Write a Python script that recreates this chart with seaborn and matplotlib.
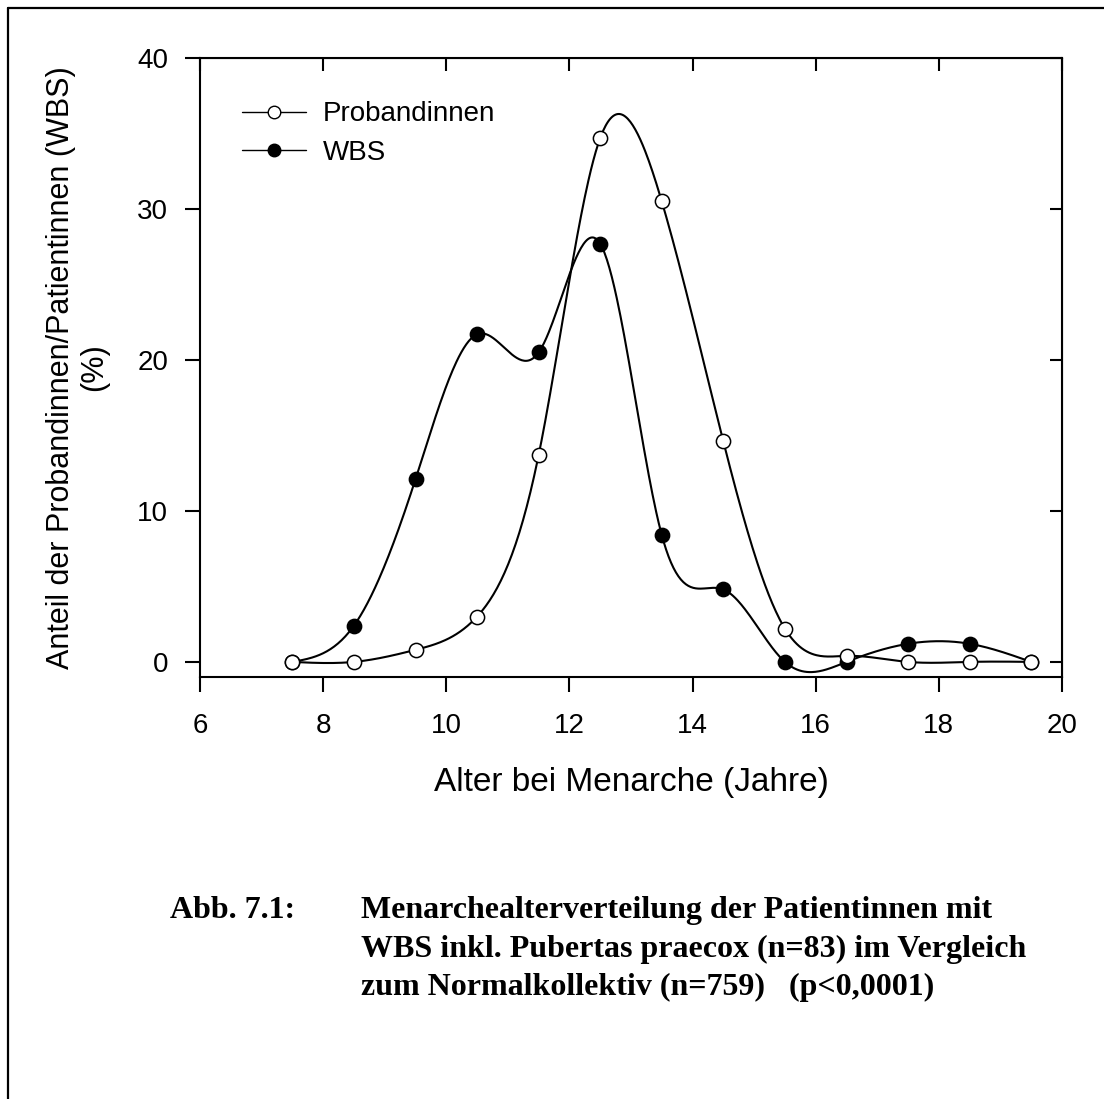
import numpy as np
import matplotlib
matplotlib.use("Agg")
import matplotlib.pyplot as plt
from matplotlib.lines import Line2D
import seaborn as sns

# Menarchealter (Klassenmitte, Jahre)
alter = [7.5, 8.5, 9.5, 10.5, 11.5, 12.5, 13.5, 14.5, 15.5, 16.5, 17.5, 18.5, 19.5]
probandinnen = [0.0, 0.0, 0.8, 3.0, 13.7, 34.7, 30.5, 14.6, 2.2, 0.4, 0.0, 0.0, 0.0]
wbs = [0.0, 2.4, 12.1, 21.7, 20.5, 27.7, 8.4, 4.8, 0.0, 0.0, 1.2, 1.2, 0.0]

x_ticks = [6, 8, 10, 12, 14, 16, 18, 20]
y_ticks = [0, 10, 20, 30, 40]

caption_label = "Abb. 7.1:"
caption_text = ("Menarchealterverteilung der Patientinnen mit\n"
                "WBS inkl. Pubertas praecox (n=83) im Vergleich\n"
                "zum Normalkollektiv (n=759)   (p<0,0001)")


def natural_spline(x, y, xs):
    # natuerlicher kubischer Spline fuer die geglaettete Kurve
    x = np.asarray(x, float)
    y = np.asarray(y, float)
    n = len(x)
    h = np.diff(x)
    A = np.zeros((n, n))
    b = np.zeros(n)
    A[0, 0] = 1
    A[-1, -1] = 1
    for i in range(1, n - 1):
        A[i, i - 1] = h[i - 1]
        A[i, i] = 2 * (h[i - 1] + h[i])
        A[i, i + 1] = h[i]
        b[i] = 3 * ((y[i + 1] - y[i]) / h[i] - (y[i] - y[i - 1]) / h[i - 1])
    c = np.linalg.solve(A, b)
    bb = (y[1:] - y[:-1]) / h - h * (2 * c[:-1] + c[1:]) / 3
    d = (c[1:] - c[:-1]) / (3 * h)
    idx = np.clip(np.searchsorted(x, xs) - 1, 0, n - 2)
    t = xs - x[idx]
    return y[idx] + bb[idx] * t + c[idx] * t ** 2 + d[idx] * t ** 3


sns.set_style("ticks")
plt.rcParams["font.family"] = ["Liberation Sans", "DejaVu Sans"]
plt.rcParams["text.color"] = "black"
plt.rcParams["axes.labelcolor"] = "black"

fig = plt.figure(figsize=(11.04, 10.99), dpi=100)
ax = fig.add_axes([200 / 1104, 1 - 677 / 1099, 862 / 1104, 619 / 1099])

xs = np.linspace(alter[0], alter[-1], 600)

# WBS zuerst, Probandinnen liegen oben
sns.lineplot(x=xs, y=natural_spline(alter, wbs, xs), color="black", lw=1.5,
             ax=ax, sort=False, estimator=None)
sns.scatterplot(x=alter, y=wbs, color="black", edgecolor="black", s=105,
                linewidth=1.1, ax=ax, zorder=3)
sns.lineplot(x=xs, y=natural_spline(alter, probandinnen, xs), color="black",
             lw=1.5, ax=ax, sort=False, estimator=None)
sns.scatterplot(x=alter, y=probandinnen, color="white", edgecolor="black",
                s=105, linewidth=1.1, ax=ax, zorder=4)

ax.set_xlim(6, 20)
ax.set_ylim(-1, 40)
ax.set_xticks(x_ticks)
ax.set_yticks(y_ticks)
for sp in ax.spines.values():
    sp.set_linewidth(1.5)
    sp.set_color("black")
ax.tick_params(axis="both", direction="out", length=11, width=1.5,
               labelsize=20, colors="black")
ax.tick_params(axis="x", pad=15)
ax.tick_params(axis="y", pad=12)

top = ax.secondary_xaxis("top")
top.set_xticks(x_ticks)
top.tick_params(direction="in", length=9, width=1.5, labeltop=False,
                colors="black")
right = ax.secondary_yaxis("right")
right.set_yticks(y_ticks)
right.tick_params(direction="in", length=9, width=1.5, labelright=False,
                  colors="black")

ax.set_xlabel("Alter bei Menarche (Jahre)", fontsize=24, labelpad=20,
              color="black")
ax.set_ylabel("Anteil der Probandinnen/Patientinnen (WBS)\n(%)", fontsize=22,
              labelpad=20, linespacing=1.15, color="black")

handles = [
    Line2D([], [], color="black", lw=1, marker="o", mfc="white", mec="black",
           ms=9, mew=1),
    Line2D([], [], color="black", lw=1, marker="o", mfc="black", mec="black",
           ms=9, mew=1),
]
leg = ax.legend(handles, ["Probandinnen", "WBS"], loc="upper left",
                bbox_to_anchor=(0.049, 0.93), frameon=False, fontsize=20,
                handlelength=2.3, handletextpad=0.6, labelspacing=0.45,
                borderpad=0, borderaxespad=0, labelcolor="black")

fig.text(170 / 1104, 1 - 896 / 1099, caption_label, family="Liberation Serif",
         weight="bold", fontsize=23, ha="left", va="top", color="black")
fig.text(361 / 1104, 1 - 896 / 1099, caption_text, family="Liberation Serif",
         weight="bold", fontsize=23, ha="left", va="top",
         linespacing=1.43, color="black")

# Rahmen der Seite (oben und links)
fig.add_artist(Line2D([8 / 1104, 1], [1 - 8 / 1099, 1 - 8 / 1099],
                      color="black", lw=1.6, transform=fig.transFigure))
fig.add_artist(Line2D([8 / 1104, 8 / 1104], [0, 1 - 8 / 1099],
                      color="black", lw=1.6, transform=fig.transFigure))

fig.savefig("out.png", dpi=100, facecolor="white")
